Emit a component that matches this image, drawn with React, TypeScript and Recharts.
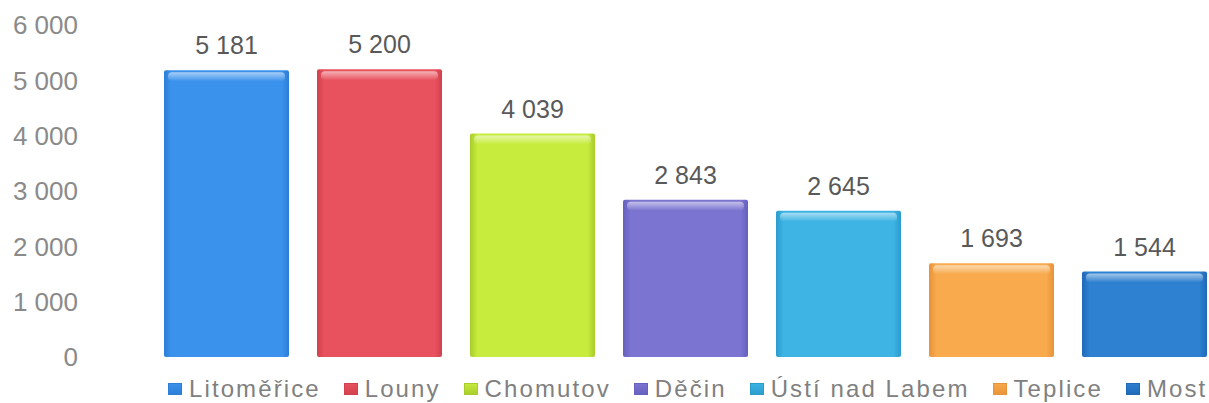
import { BarChart, Bar, XAxis, YAxis, Cell, LabelList, Legend } from "recharts";

const districts = ["Litoměřice", "Louny", "Chomutov", "Děčin", "Ústí nad Labem", "Teplice", "Most"];
const counts = [5181, 5200, 4039, 2843, 2645, 1693, 1544];
const colors = ["#3b92ec", "#e8525e", "#c8ec3e", "#7b74d0", "#3db4e4", "#f8aa4c", "#2e80d0"];
const edgeColors = ["#2c7ed6", "#d2404e", "#a8cc2a", "#6660c0", "#2a9ccc", "#e8923a", "#2068b8"];
const yTicks = [0, 1000, 2000, 3000, 4000, 5000, 6000];

const data = districts.map((name, i) => ({ name, value: counts[i] }));

function fmt(n: number) {
  return String(n).replace(/\B(?=(\d{3})+(?!\d))/g, " ");
}

const FONT = '"Liberation Sans", Arial, sans-serif';

function GlossyBar(props: any) {
  const { x, y, width, height, index } = props;
  if (!height || height <= 0) return null;
  return (
    <g>
      <rect x={x} y={y} width={width} height={height} fill={`url(#barGrad${index})`} rx={2} />
      <rect x={x + 4} y={y + 2} width={width - 8} height={9} rx={4} fill="url(#shine)" />
    </g>
  );
}

function LegendContent() {
  return (
    <div
      style={{
        display: "flex",
        whiteSpace: "nowrap",
        fontFamily: FONT,
        fontSize: 24,
        letterSpacing: 2.1,
        color: "#808080",
        height: 26,
        lineHeight: "26px",
      }}
    >
      {districts.map((d, i) => (
        <div key={d} style={{ display: "flex", alignItems: "center", marginRight: 23 }}>
          <span
            style={{
              display: "inline-block",
              width: 14,
              height: 12,
              marginRight: 7,
              background: `linear-gradient(${colors[i]}, ${edgeColors[i]})`,
              boxShadow: `inset 0 0 0 1px ${edgeColors[i]}`,
            }}
          />
          <span>{d}</span>
        </div>
      ))}
    </div>
  );
}

export default function App() {
  return (
    <div style={{ width: 1209, height: 403, overflow: "hidden", background: "#fff" }}>
      <style>{"body{margin:0}"}</style>
      <BarChart
        width={1230}
        height={403}
        data={data}
        margin={{ top: 25, right: 9, left: 0, bottom: 20 }}
        barCategoryGap={14}
      >
        <defs>
          {colors.map((c, i) => (
            <linearGradient key={c + i} id={`barGrad${i}`} x1="0" y1="0" x2="1" y2="0">
              <stop offset="0%" stopColor={edgeColors[i]} />
              <stop offset="6%" stopColor={colors[i]} />
              <stop offset="94%" stopColor={colors[i]} />
              <stop offset="100%" stopColor={edgeColors[i]} />
            </linearGradient>
          ))}
          <linearGradient id="shine" x1="0" y1="0" x2="0" y2="1">
            <stop offset="0%" stopColor="#ffffff" stopOpacity={0.55} />
            <stop offset="100%" stopColor="#ffffff" stopOpacity={0} />
          </linearGradient>
        </defs>
        <XAxis dataKey="name" hide />
        <YAxis
          width={150}
          domain={[0, 6000]}
          ticks={yTicks}
          tickFormatter={fmt}
          axisLine={false}
          tickLine={false}
          tickMargin={66}
          tick={{ fill: "#8a8a8a", fontSize: 26, fontFamily: FONT }}
        />
        <Legend
          content={<LegendContent />}
          wrapperStyle={{ left: 168, top: 376, width: 1060, height: 26 }}
        />
        <Bar dataKey="value" isAnimationActive={false} shape={<GlossyBar />}>
          {data.map((d, i) => (
            <Cell key={d.name} fill={colors[i]} />
          ))}
          <LabelList
            dataKey="value"
            position="top"
            offset={16}
            formatter={(v: any) => fmt(Number(v))}
            style={{ fill: "#595959", fontSize: 25, fontFamily: FONT }}
          />
        </Bar>
      </BarChart>
    </div>
  );
}
